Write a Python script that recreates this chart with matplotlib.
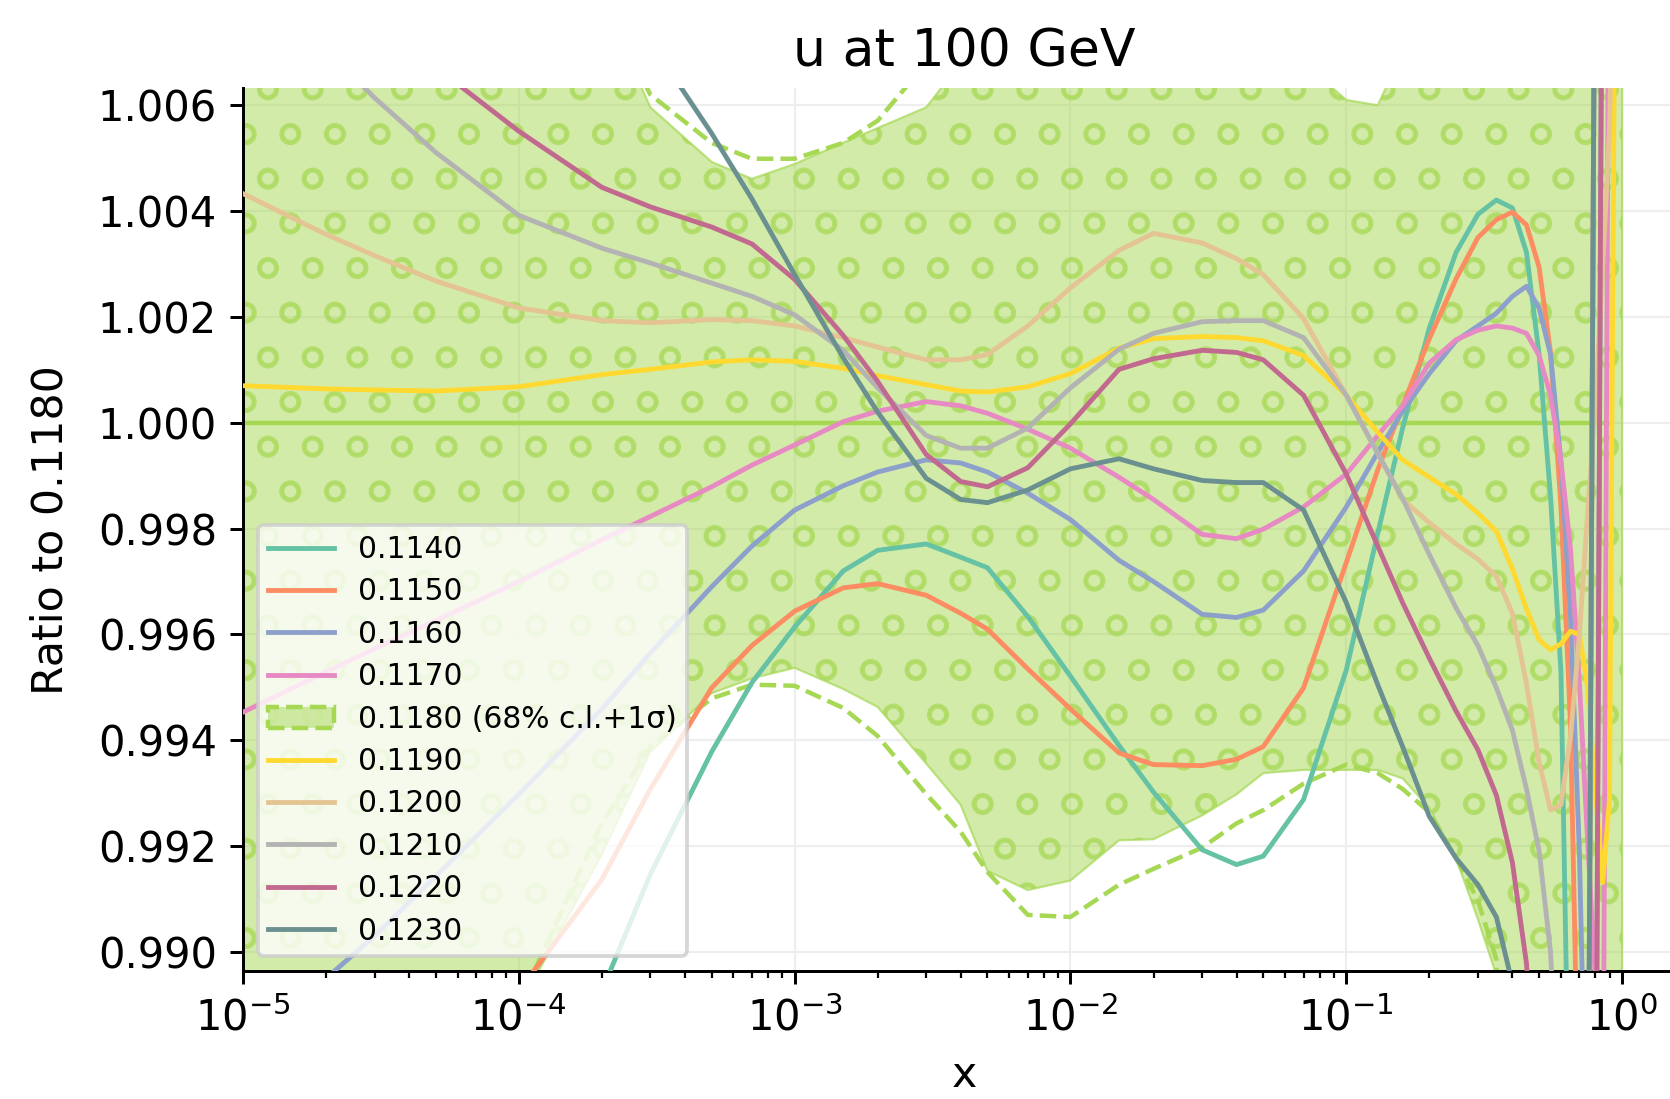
import numpy as np
import matplotlib
matplotlib.use("Agg")
import matplotlib.pyplot as plt
import matplotlib.patches as mpatches
from matplotlib.lines import Line2D
from matplotlib.colors import to_rgba
from matplotlib.ticker import FormatStrFormatter

# x grid the ratios were read at
x = [1e-5, 2e-5, 3e-5, 5e-5, 1e-4, 2e-4, 3e-4, 5e-4, 7e-4, 1e-3,
     1.5e-3, 2e-3, 3e-3, 4e-3, 5e-3, 7e-3, 1e-2, 1.5e-2, 2e-2, 3e-2,
     4e-2, 5e-2, 7e-2, 0.1, 0.13, 0.16, 0.2, 0.25, 0.3, 0.35,
     0.4, 0.45, 0.5, 0.55, 0.6, 0.65, 0.7, 0.75, 0.8, 0.85,
     0.9, 0.95, 1.0]

# ratio to the 0.1180 central value
r_1140 = [0.9650, 0.9700, 0.9730, 0.9770, 0.9846, 0.98926, 0.99147, 0.99378, 0.99509, 0.99614,
          0.99720, 0.99759, 0.99771, 0.99746, 0.99726, 0.99634, 0.99521, 0.99390, 0.99302, 0.99193,
          0.99165, 0.99181, 0.99288, 0.99533, 0.99791, 0.99990, 1.00179, 1.00322, 1.00394, 1.00421,
          1.00406, 1.00322, 1.00129, 0.99861, 0.99529, 0.9850, 0.9840, 0.9840, 1.0120, 1.0200,
          1.0200, 1.0200, 1.0200]
r_1150 = [0.9780, 0.9800, 0.9820, 0.9855, 0.98926, 0.99137, 0.99308, 0.99499, 0.99579, 0.99644,
          0.99688, 0.99696, 0.99674, 0.99640, 0.99610, 0.99535, 0.99459, 0.99376, 0.99354, 0.99352,
          0.99364, 0.99388, 0.99499, 0.99736, 0.99911, 1.00032, 1.00159, 1.00272, 1.00350, 1.00384,
          1.00398, 1.00374, 1.00294, 1.00133, 0.99841, 0.99429, 0.9860, 0.9840, 1.0120, 1.0200,
          1.0200, 1.0200, 1.0200]
r_1160 = [0.98805, 0.98950, 0.99030, 0.99143, 0.99298, 0.99459, 0.99565, 0.99690, 0.99767, 0.99835,
          0.99881, 0.99907, 0.99930, 0.99924, 0.99907, 0.99867, 0.99817, 0.99740, 0.99700, 0.99638,
          0.99632, 0.99646, 0.99720, 0.99841, 0.99944, 1.00022, 1.00093, 1.00155, 1.00183, 1.00207,
          1.00239, 1.00258, 1.00217, 1.00129, 0.99926, 0.99634, 0.99187, 0.9850, 0.9840, 1.0120,
          1.0200, 1.0200, 1.0200]
r_1170 = [0.99453, 0.99529, 0.99573, 0.99626, 0.99700, 0.99779, 0.99823, 0.99879, 0.99920, 0.99958,
          1.00002, 1.00022, 1.00040, 1.00032, 1.00018, 0.99988, 0.99952, 0.99897, 0.99855, 0.99789,
          0.99781, 0.99799, 0.99841, 0.99903, 0.99976, 1.00032, 1.00113, 1.00157, 1.00175, 1.00183,
          1.00179, 1.00169, 1.00127, 1.00052, 0.99928, 0.99761, 0.99509, 0.99207, 0.98946, 0.9850,
          1.0120, 1.0200, 1.0200]
r_1190 = [1.00070, 1.00064, 1.00062, 1.00060, 1.00068, 1.00091, 1.00101, 1.00115, 1.00119, 1.00116,
          1.00103, 1.00089, 1.00072, 1.00060, 1.00058, 1.00068, 1.00093, 1.00141, 1.00159, 1.00163,
          1.00161, 1.00155, 1.00127, 1.00052, 0.99982, 0.99930, 0.99897, 0.99865, 0.99829, 0.99795,
          0.99724, 0.99648, 0.99590, 0.99571, 0.99582, 0.99606, 0.99600, 0.99499, 0.99308, 0.99131,
          0.99288, 1.0120, 1.0200]
r_1200 = [1.00433, 1.00356, 1.00316, 1.00268, 1.00217, 1.00193, 1.00189, 1.00195, 1.00193, 1.00183,
          1.00161, 1.00143, 1.00119, 1.00119, 1.00129, 1.00183, 1.00255, 1.00326, 1.00358, 1.00340,
          1.00310, 1.00280, 1.00197, 1.00052, 0.99942, 0.99855, 0.99811, 0.99771, 0.99742, 0.99710,
          0.99640, 0.99507, 0.99358, 0.99268, 0.99278, 0.99408, 0.99600, 0.99831, 1.00032, 1.00294,
          1.00555, 1.0120, 1.0200]
r_1210 = [1.0090, 1.00706, 1.00614, 1.00511, 1.00392, 1.00330, 1.00302, 1.00264, 1.00239, 1.00204,
          1.00137, 1.00066, 0.99976, 0.99952, 0.99952, 0.99990, 1.00066, 1.00139, 1.00169, 1.00191,
          1.00193, 1.00193, 1.00161, 1.00052, 0.99942, 0.99857, 0.99751, 0.99650, 0.99579, 0.99499,
          0.99419, 0.99308, 0.99191, 0.99000, 0.9860, 0.9840, 0.9840, 0.9840, 1.0120, 1.0200,
          1.0200, 1.0200, 1.0200]
r_1220 = [1.0110, 1.0095, 1.0085, 1.00672, 1.00551, 1.00445, 1.00408, 1.00370, 1.00338, 1.00271,
          1.00165, 1.00078, 0.99940, 0.99889, 0.99879, 0.99915, 0.99998, 1.00101, 1.00121, 1.00137,
          1.00133, 1.00119, 1.00052, 0.99903, 0.99767, 0.99660, 0.99555, 0.99455, 0.99382, 0.99296,
          0.99169, 0.98978, 0.9860, 0.9840, 0.9840, 0.9840, 0.9840, 0.9840, 0.9840, 1.0120,
          1.0200, 1.0200, 1.0200]
r_1230 = [1.0150, 1.0135, 1.0125, 1.0113, 1.0100, 1.0086, 1.0072, 1.00547, 1.00423, 1.00280,
          1.00123, 1.00020, 0.99895, 0.99855, 0.99849, 0.99873, 0.99913, 0.99932, 0.99913, 0.99891,
          0.99887, 0.99887, 0.99835, 0.99660, 0.99505, 0.99388, 0.99256, 0.99177, 0.99127, 0.99066,
          0.9894, 0.9860, 0.9840, 0.9840, 0.9840, 0.9840, 0.9840, 0.9840, 1.0120, 1.0200,
          1.0200, 1.0200, 1.0200]

# 0.1180 reference: central value, 68% c.l. band and 1 sigma
central = [1.0] * 41 + [np.nan, np.nan]
band_up = [1.0080, 1.0080, 1.0080, 1.0080, 1.0080, 1.0080, 1.00596, 1.00493, 1.00461, 1.00489,
           1.00529, 1.00557, 1.00596, 1.0068, 1.0068, 1.0068, 1.0068, 1.0068, 1.0068, 1.0068,
           1.0068, 1.0068, 1.0068, 1.00610, 1.00600, 1.0070, 1.0070, 1.0070, 1.0070, 1.0070,
           1.0070, 1.0200, 1.0200, 1.0200, 1.0200, 1.0200, 1.0200, 1.0200, 1.0200, 1.0200,
           1.0200, 1.0200, 1.0200]
band_lo = [0.9850, 0.9850, 0.9850, 0.9850, 0.98895, 0.99185, 0.99378, 0.99489, 0.99517, 0.99537,
           0.99497, 0.99463, 0.99356, 0.99278, 0.99153, 0.99117, 0.99135, 0.99211, 0.99213, 0.99258,
           0.99298, 0.99338, 0.99344, 0.99344, 0.99344, 0.99328, 0.99272, 0.99177, 0.99062, 0.98956,
           0.9800, 0.9800, 0.9800, 0.9800, 0.9800, 0.9800, 0.9800, 0.9800, 0.9800, 0.9800,
           0.9800, 0.9800, 0.9800]
sigma_up = [1.0080, 1.0080, 1.0080, 1.0080, 1.0080, 1.0080, 1.00620, 1.00529, 1.00499, 1.00499,
            1.00529, 1.00571, 1.0068, 1.0070, 1.0070, 1.0070, 1.0070, 1.0070, 1.0070, 1.0070,
            1.0070, 1.0070, 1.0070, 1.0070, 1.0070, 1.0070, 1.0070, 1.0070, 1.0070, 1.0070,
            1.0070, 1.0200, 1.0200, 1.0200, 1.0200, 1.0200, 1.0200, 1.0200, 1.0200, 1.0200,
            1.0200, 1.0200, 1.0200]
sigma_lo = [0.9850, 0.9850, 0.9850, 0.9850, 0.9890, 0.99243, 0.99388, 0.99479, 0.99505, 0.99503,
            0.99461, 0.99408, 0.99298, 0.99227, 0.99151, 0.99070, 0.99066, 0.99127, 0.99157, 0.99197,
            0.99243, 0.99268, 0.99318, 0.99354, 0.99338, 0.99308, 0.99264, 0.99177, 0.99097, 0.98986,
            0.9800, 0.9800, 0.9800, 0.9800, 0.9800, 0.9800, 0.9800, 0.9800, 0.9800, 0.9800,
            0.9800, 0.9800, 0.9800]

low_labels = ["0.1140", "0.1150", "0.1160", "0.1170"]
high_labels = ["0.1190", "0.1200", "0.1210", "0.1220", "0.1230"]
low_curves = [r_1140, r_1150, r_1160, r_1170]
high_curves = [r_1190, r_1200, r_1210, r_1220, r_1230]
low_colors = ["#66c2a5", "#fc8d62", "#8da0cb", "#e78ac3"]
high_colors = ["#ffd92f", "#e5c494", "#b3b3b3", "#c2698f", "#6b9090"]
green = "#a6d854"

plt.rcParams["hatch.linewidth"] = 1.15

dpi = 268
fig = plt.figure(figsize=(1670 / dpi, 1099 / dpi), dpi=dpi)
ax = fig.add_axes([0.1455, 0.1165, 0.8635, 0.8031])

ax.fill_between(x, band_lo, band_up, facecolor=to_rgba(green, 0.5),
                edgecolor=to_rgba(green, 0.7), hatch="o", linewidth=0.6, zorder=1)
ax.plot(x, central, color=green, lw=1.2, zorder=2)
ax.plot(x, sigma_up, color=green, lw=1.2, ls="--", zorder=2)
ax.plot(x, sigma_lo, color=green, lw=1.2, ls="--", zorder=2)

handles = []
for c, col in zip(low_curves, low_colors):
    ax.plot(x, c, color=col, lw=1.3, zorder=3)
    handles.append(Line2D([], [], color=col, lw=1.3))
handles.append(mpatches.Patch(facecolor=to_rgba(green, 0.5), edgecolor=green,
                              linestyle="--", linewidth=1.2))
for c, col in zip(high_curves, high_colors):
    ax.plot(x, c, color=col, lw=1.3, zorder=3)
    handles.append(Line2D([], [], color=col, lw=1.3))
labels = low_labels + ["0.1180 (68% c.l.+1σ)"] + high_labels

ax.set_xscale("log")
ax.set_xlim(1e-5, 10 ** 0.228)
ax.set_ylim(0.98964, 1.00632)
ax.set_yticks([0.990, 0.992, 0.994, 0.996, 0.998, 1.000, 1.002, 1.004, 1.006])
ax.yaxis.set_major_formatter(FormatStrFormatter("%.3f"))
ax.tick_params(labelsize=11.2)
ax.spines["top"].set_visible(False)
ax.spines["right"].set_visible(False)
ax.grid(True, color="#eeeeee", lw=0.6)
ax.set_axisbelow(True)

ax.set_title("u at 100 GeV", fontsize=14)
ax.set_xlabel("x", fontsize=11.5)
ax.set_ylabel("Ratio to 0.1180", fontsize=11.5, labelpad=7)
ax.legend(handles, labels, loc="lower left", fontsize=8,
          labelspacing=0.45, handlelength=2.2, borderpad=0.35)

fig.savefig("out.png", dpi=dpi)
